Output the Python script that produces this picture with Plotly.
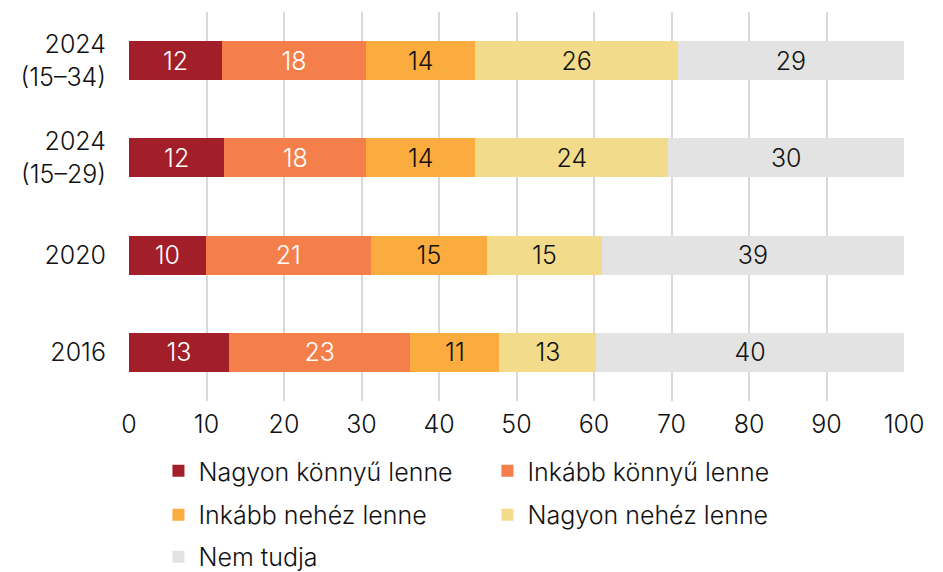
import plotly.graph_objects as go

categories = ["2024<br>(15–34)", "2024<br>(15–29)", "2020", "2016"]
series_names = ["Nagyon könnyű lenne", "Inkább könnyű lenne", "Inkább nehéz lenne",
                "Nagyon nehéz lenne", "Nem tudja"]
nagyon_konnyu = [12.0, 12.3, 9.9, 12.9]
inkabb_konnyu = [18.6, 18.3, 21.3, 23.4]
inkabb_nehez = [14.1, 14.1, 15.0, 11.5]
nagyon_nehez = [26.1, 24.9, 14.8, 12.5]
nem_tudja = [29.2, 30.4, 39.0, 39.7]
labels_nk = [12, 12, 10, 13]
labels_ik = [18, 18, 21, 23]
labels_in = [14, 14, 15, 11]
labels_nn = [26, 24, 15, 13]
labels_nt = [29, 30, 39, 40]
x_ticks = [0, 10, 20, 30, 40, 50, 60, 70, 80, 90, 100]

series = [nagyon_konnyu, inkabb_konnyu, inkabb_nehez, nagyon_nehez, nem_tudja]
labels = [labels_nk, labels_ik, labels_in, labels_nn, labels_nt]
colors = ["#A21E29", "#F47F4B", "#FBAC3F", "#F2DC8C", "#E3E3E3"]
text_colors = ["white", "white", "#111111", "#111111", "#111111"]
legend_ids = ["legend", "legend", "legend2", "legend2", "legend3"]

FONT = "Inter"
FS = 25

fig = go.Figure()
for name, vals, labs, col, tcol, lg in zip(series_names, series, labels, colors, text_colors, legend_ids):
    fig.add_trace(go.Bar(
        y=categories, x=vals, name=name, orientation="h",
        marker=dict(color=col, line=dict(width=0)),
        text=[str(v) for v in labs], textposition="inside",
        insidetextanchor="middle", textangle=0,
        textfont=dict(color=tcol, size=FS, family=FONT, weight=300),
        constraintext="none", legend=lg, hoverinfo="skip",
    ))

legend_common = dict(orientation="h", xanchor="left", yanchor="middle",
                     traceorder="normal",
                     font=dict(size=FS, family=FONT, color="#111", weight=300),
                     entrywidth=284, entrywidthmode="pixels",
                     bgcolor="rgba(0,0,0,0)", itemclick=False)

fig.update_layout(
    width=943, height=572,
    margin=dict(l=121, r=47, t=4, b=179, autoexpand=False),
    barmode="stack", bargap=0.6,
    plot_bgcolor="white", paper_bgcolor="white",
    font=dict(family=FONT, size=FS, color="#111", weight=300),
    showlegend=True,
    legend=dict(x=0.038, y=-0.180, **legend_common),
    legend2=dict(x=0.038, y=-0.293, **legend_common),
    legend3=dict(x=0.038, y=-0.401, **legend_common),
    xaxis=dict(range=[0, 100], tickvals=x_ticks, showgrid=True,
               gridcolor="#D9D9D9", gridwidth=1.5, zeroline=False,
               showline=False, ticks="", ticklabelstandoff=6,
               tickfont=dict(size=FS, family=FONT, color="#111", weight=300),
               automargin=False, fixedrange=True),
    yaxis=dict(autorange="reversed", showgrid=False, ticks="",
               ticklabelstandoff=22, showline=False,
               tickfont=dict(size=FS, family=FONT, color="#111", weight=300),
               automargin=False, fixedrange=True),
)

fig.write_html("out.html")
